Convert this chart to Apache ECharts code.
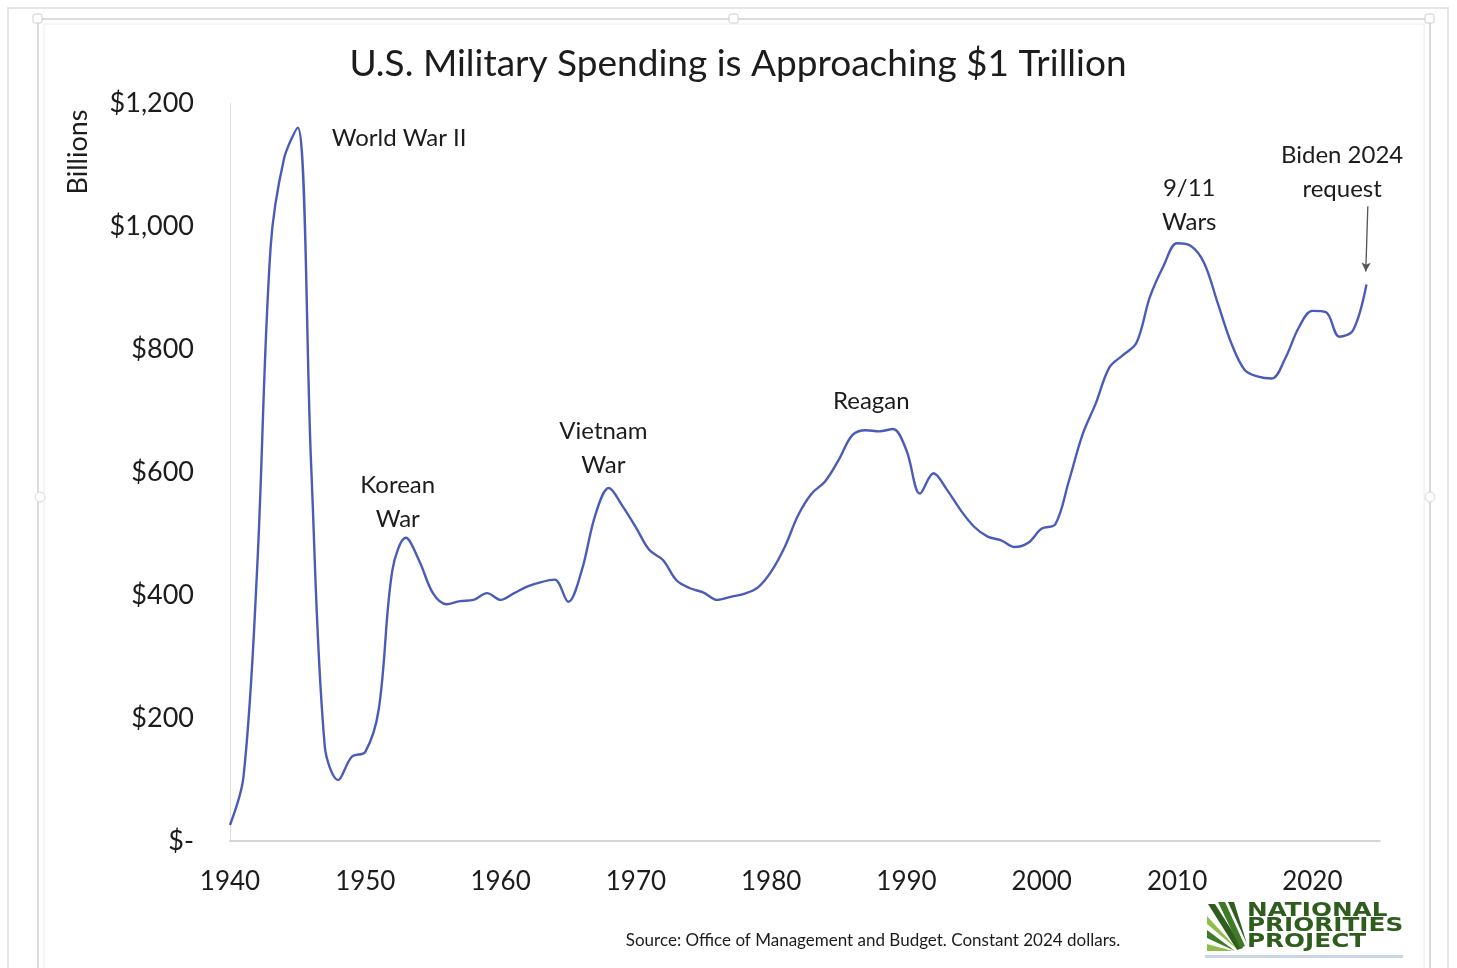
<!DOCTYPE html>
<html>
<head>
<meta charset="utf-8">
<script src="https://cdn.jsdelivr.net/npm/echarts@6/dist/echarts.min.js"></script>
<style>
  html, body { margin: 0; padding: 0; background: #ffffff; }
  #chart { width: 1457px; height: 968px; }
</style>
</head>
<body>
<div id="chart"></div>
<script>
// ---- data (billions, constant 2024 dollars) ----
const years = [
  1940,1941,1942,1943,1944,1945,1946,1947,1948,1949,
  1950,1951,1952,1953,1954,1955,1956,1957,1958,1959,
  1960,1961,1962,1963,1964,1965,1966,1967,1968,1969,
  1970,1971,1972,1973,1974,1975,1976,1977,1978,1979,
  1980,1981,1982,1983,1984,1985,1986,1987,1988,1989,
  1990,1991,1992,1993,1994,1995,1996,1997,1998,1999,
  2000,2001,2002,2003,2004,2005,2006,2007,2008,2009,
  2010,2011,2012,2013,2014,2015,2016,2017,2018,2019,
  2020,2021,2022,2023,2024
];
const spending = [
  26, 105, 440, 965, 1110, 1160, 610, 155, 99, 137,
  145, 215, 440, 493, 455, 403, 385, 390, 392, 403,
  392, 403, 414, 421, 425, 389, 440, 530, 574, 545,
  510, 473, 457, 424, 411, 404, 392, 397, 402, 412,
  438, 478, 530, 565, 585, 620, 660, 668, 666, 670,
  635, 565, 598, 571, 538, 511, 495, 489, 478, 485,
  508, 515, 585, 660, 712, 770, 790, 810, 885, 935,
  972, 968, 940, 875, 810, 766, 755, 752, 785, 835,
  862, 860, 820, 830, 905
];
const xTicks = [1940, 1950, 1960, 1970, 1980, 1990, 2000, 2010, 2020];
const yTicks = [0, 200, 400, 600, 800, 1000, 1200];

// annotation labels: text and anchor (year, billions)
const annotationText = ['World War II', 'Korean\nWar', 'Vietnam\nWar', 'Reagan', '9/11\nWars', 'Biden 2024\nrequest'];
const annotationYear = [1952.5, 1952.4, 1967.6, 1987.4, 2010.9, 2022.2];
const annotationValue = [1143, 550, 638, 715, 1034, 1088];
// arrow for Biden request
const arrowFrom = [2024.1, 1032];
const arrowTo = [2023.95, 926];

const seriesData = years.map((y, i) => [y, spending[i]]);

const chart = echarts.init(document.getElementById('chart'), null, { renderer: 'canvas' });
const FONT = 'Lato, "Open Sans", sans-serif';
const TXT = '#1c1c1c';

const option = {
  backgroundColor: '#ffffff',
  animation: false,
  title: {
    text: 'U.S. Military Spending is Approaching $1 Trillion',
    left: 733, top: 41, textAlign: 'center',
    textStyle: { fontFamily: FONT, fontSize: 37, fontWeight: 'normal', color: TXT }
  },
  grid: { left: 230, right: 77, top: 103, bottom: 127 },
  xAxis: {
    type: 'value', min: 1940, max: 2025, interval: 10,
    axisLine: { show: true, lineStyle: { color: '#c8c8c8', width: 1.5 } },
    axisTick: { show: false },
    splitLine: { show: false },
    axisLabel: {
      margin: 28, fontFamily: FONT, fontSize: 26, color: TXT,
      formatter: v => (xTicks.indexOf(v) >= 0 ? String(v) : '')
    }
  },
  yAxis: {
    type: 'value', min: 0, max: 1200, interval: 200,
    axisLine: { show: true, lineStyle: { color: '#e0e0e0', width: 1 } },
    axisTick: { show: false },
    splitLine: { show: false },
    axisLabel: {
      margin: 36, fontFamily: FONT, fontSize: 27, color: TXT,
      formatter: v => (yTicks.indexOf(v) < 0 ? '' : (v === 0 ? '$-' : '$' + v.toLocaleString('en-US')))
    }
  },
  series: [
    {
      type: 'line',
      data: seriesData,
      smooth: 0.35,
      showSymbol: false,
      lineStyle: { color: '#4a5cb8', width: 2.4 },
      markPoint: {
        symbol: 'circle', symbolSize: 0,
        label: {
          show: true, position: 'inside',
          fontFamily: FONT, fontSize: 24, lineHeight: 34, color: TXT,
          formatter: p => p.name
        },
        data: annotationText.map((t, i) => ({ name: t, coord: [annotationYear[i], annotationValue[i]] }))
      },
      markLine: {
        silent: true,
        symbol: ['none', 'arrow'], symbolSize: [7, 9],
        label: { show: false },
        lineStyle: { color: '#555555', width: 1.3, type: 'solid' },
        data: [[{ coord: arrowFrom }, { coord: arrowTo }]]
      }
    }
  ],
  graphic: [
    // outer shadow / frame
    { type: 'rect', shape: { x: 8, y: 8, width: 1440, height: 980 }, style: { fill: 'none', stroke: '#e6e6e6', lineWidth: 2 }, z: -10 },
    { type: 'rect', shape: { x: 38, y: 19, width: 1392, height: 960 }, style: { fill: 'none', stroke: '#cfcfcf', lineWidth: 1.5 }, z: -9 },
    { type: 'rect', shape: { x: 44, y: 24, width: 1380, height: 960 }, style: { fill: 'none', stroke: '#ececec', lineWidth: 1 }, z: -9 },
    { type: 'rect', shape: { x: 33, y: 14, width: 9, height: 9, r: 2 }, style: { fill: '#fff', stroke: '#cfcfcf' } },
    { type: 'rect', shape: { x: 1425, y: 14, width: 9, height: 9, r: 2 }, style: { fill: '#fff', stroke: '#cfcfcf' } },
    { type: 'rect', shape: { x: 729, y: 14, width: 9, height: 9, r: 2 }, style: { fill: '#fff', stroke: '#cfcfcf' } },
    { type: 'circle', shape: { cx: 40, cy: 497, r: 5 }, style: { fill: '#fff', stroke: '#d6d6d6' } },
    { type: 'circle', shape: { cx: 1430, cy: 497, r: 5 }, style: { fill: '#fff', stroke: '#d6d6d6' } },
    // y axis title
    {
      type: 'text', x: 78, y: 152, rotation: Math.PI / 2,
      style: { text: 'Billions', fontFamily: FONT, fontSize: 27, fill: TXT, textAlign: 'center', textVerticalAlign: 'middle' }
    },
    // source
    {
      type: 'text', x: 873, y: 941,
      style: { text: 'Source: Office of Management and Budget. Constant 2024 dollars.', fontFamily: FONT, fontSize: 17, fill: TXT, textAlign: 'center', textVerticalAlign: 'middle' }
    },
    // logo
    {
      type: 'group', x: 1205, y: 900,
      children: [
        { type: 'polygon', shape: { points: [[3, 4], [10, 4], [38, 48], [32, 50]] }, style: { fill: '#2f5d1e' } },
        { type: 'polygon', shape: { points: [[13, 2], [20, 2], [40, 46], [35, 48]] }, style: { fill: '#3f7a26' } },
        { type: 'polygon', shape: { points: [[23, 2], [29, 2], [42, 44]] }, style: { fill: '#2f5d1e' } },
        { type: 'polygon', shape: { points: [[2, 16], [2, 24], [33, 50]] }, style: { fill: '#8fbf4a' } },
        { type: 'polygon', shape: { points: [[2, 30], [2, 38], [30, 51]] }, style: { fill: '#3f7a26' } },
        { type: 'polygon', shape: { points: [[2, 44], [2, 51], [28, 51]] }, style: { fill: '#8fbf4a' } },
        { type: 'text', x: 42, y: 2, scaleX: 1.3, style: { text: 'NATIONAL', fontFamily: 'DejaVu Sans', fontWeight: 'bold', fontSize: 19, fill: '#2f5d1e' } },
        { type: 'text', x: 42, y: 17, scaleX: 1.3, style: { text: 'PRIORITIES', fontFamily: 'DejaVu Sans', fontWeight: 'bold', fontSize: 19, fill: '#2f5d1e' } },
        { type: 'text', x: 42, y: 33, scaleX: 1.3, style: { text: 'PROJECT', fontFamily: 'DejaVu Sans', fontWeight: 'bold', fontSize: 19, fill: '#2f5d1e' } },
        { type: 'rect', shape: { x: 0, y: 55, width: 198, height: 3 }, style: { fill: '#c9d6e8' } }
      ]
    }
  ]
};
chart.setOption(option);
</script>
</body>
</html>
